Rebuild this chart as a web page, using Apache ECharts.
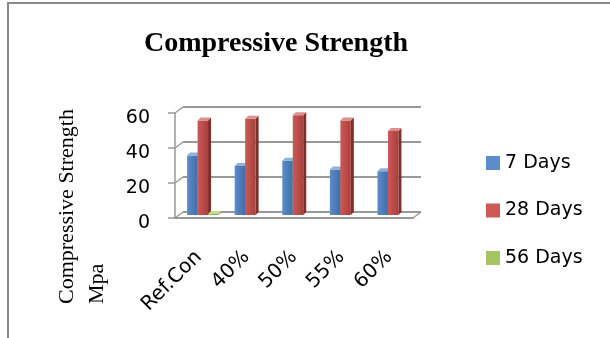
<!DOCTYPE html>
<html>
<head>
<meta charset="utf-8">
<script src="https://cdn.jsdelivr.net/npm/echarts@6/dist/echarts.min.js"></script>
<style>
  html, body { margin: 0; padding: 0; background: #fff; }
  #chart { width: 610px; height: 338px; }
</style>
</head>
<body>
<div id="chart"></div>
<script>
// Mixes and compressive strength results (MPa)
const categories = ['Ref.Con', '40%', '50%', '55%', '60%'];
const days7 = [34, 28, 31, 26, 25];
const days28 = [54, 55, 57, 54, 48];
const days56 = [0.6, 0, 0, 0, 0];
const seriesNames = ['7 Days', '28 Days', '56 Days'];
const yTicks = [0, 20, 40, 60];

// Pseudo-3D geometry: back wall offset and bar depth
const DEPTH = { dx: 8, dy: -6 };
const MID = { dx: 4, dy: -3 };
const BAR_DEPTH = 3;
const BAR_FRACTION = 0.22;

const palette = [
  { front: ['#5B8DCB', '#3F6FAA'], side: '#2F5685', top: '#8DB0DC' },
  { front: ['#CC5956', '#A9403D'], side: '#7E2E2C', top: '#DE8E8C' },
  { front: ['#A5C563', '#86A547'], side: '#667E33', top: '#C4DB93' }
];

function renderBar(params, api) {
  const idx = api.value(0);
  const val = api.value(1);
  if (!(val > 0)) return null;
  const si = params.seriesIndex;
  const base = api.coord([idx, 0]);
  const top = api.coord([idx, val]);
  const band = api.size([1, 0])[0];
  const w = band * BAR_FRACTION;
  const x0 = base[0] - 1.5 * w + si * w + MID.dx;
  const yb = base[1] + MID.dy;
  const yt = top[1] + MID.dy;
  const d = BAR_DEPTH;
  const c = palette[si];
  return {
    type: 'group',
    children: [
      {
        type: 'polygon',
        shape: { points: [[x0 + w, yt], [x0 + w + d, yt - d], [x0 + w + d, yb - d], [x0 + w, yb]] },
        style: { fill: c.side }
      },
      {
        type: 'rect',
        shape: { x: x0, y: yt, width: w, height: Math.max(yb - yt, 0) },
        style: {
          fill: new echarts.graphic.LinearGradient(0, 0, 1, 0, [
            { offset: 0, color: c.front[0] },
            { offset: 1, color: c.front[1] }
          ])
        }
      },
      {
        type: 'polygon',
        shape: { points: [[x0, yt], [x0 + w, yt], [x0 + w + d, yt - d], [x0 + d, yt - d]] },
        style: { fill: c.top }
      }
    ]
  };
}

// Left-wall diagonals at each tick, plus the right edge of the floor
function renderWall(params, api) {
  const cs = params.coordSys;
  const v = api.value(1);
  const y = api.coord([0, v])[1];
  const stroke = { stroke: '#9a9a9a', lineWidth: 1.5 };
  const children = [{
    type: 'line',
    shape: { x1: cs.x, y1: y, x2: cs.x + DEPTH.dx, y2: y + DEPTH.dy },
    style: stroke
  }];
  if (v === 0) {
    children.push({
      type: 'line',
      shape: { x1: cs.x + cs.width, y1: y, x2: cs.x + cs.width + DEPTH.dx, y2: y + DEPTH.dy },
      style: stroke
    });
  }
  return { type: 'group', children: children };
}

const valueSets = [days7, days28, days56];
const chart = echarts.init(document.getElementById('chart'), null, { renderer: 'canvas' });

const gridLineStyle = { color: '#999', width: 2 };
const sans = 'DejaVu Sans';

chart.setOption({
  animation: false,
  backgroundColor: '#fff',
  graphic: [
    {
      type: 'rect',
      shape: { x: 8, y: 3, width: 640, height: 400 },
      style: { fill: 'none', stroke: '#8a8a8a', lineWidth: 2 },
      silent: true
    },
    {
      type: 'text',
      x: 276, y: 44,
      style: {
        text: 'Compressive Strength',
        font: 'bold 28px "Liberation Serif"',
        fill: '#000',
        align: 'center',
        verticalAlign: 'middle'
      }
    },
    {
      type: 'text',
      x: 82, y: 304,
      rotation: Math.PI / 2,
      style: {
        text: 'Compressive Strength\nMpa',
        font: '22px "Liberation Serif"',
        lineHeight: 30,
        fill: '#000',
        align: 'left',
        verticalAlign: 'middle'
      }
    }
  ],
  legend: {
    data: seriesNames,
    orient: 'vertical',
    left: 481,
    top: 148,
    icon: 'rect',
    itemWidth: 14,
    itemHeight: 14,
    itemGap: 27.5,
    textStyle: { fontFamily: sans, fontSize: 19, color: '#000', lineHeight: 20 }
  },
  grid: [
    { left: 175, right: 197, top: 113, bottom: 120 },
    { left: 183, right: 189, top: 107, bottom: 126 }
  ],
  xAxis: [
    {
      type: 'category',
      gridIndex: 0,
      data: categories,
      axisLine: { lineStyle: { color: '#999', width: 2 } },
      axisTick: { show: false },
      axisLabel: {
        rotate: 45,
        margin: 36,
        interval: 0,
        fontFamily: sans,
        fontSize: 20,
        color: '#000'
      }
    },
    {
      type: 'category',
      gridIndex: 1,
      data: categories,
      show: false
    }
  ],
  yAxis: [
    {
      type: 'value',
      gridIndex: 0,
      min: 0,
      max: 60,
      interval: 20,
      splitLine: { show: false },
      axisLine: { show: true, lineStyle: { color: '#999', width: 1.5 } },
      axisTick: { show: true, length: 7, lineStyle: { color: '#999', width: 1.5 } },
      axisLabel: {
        margin: 25,
        fontFamily: sans,
        fontSize: 19,
        color: '#000',
        verticalAlign: 'top',
        lineHeight: 10
      }
    },
    {
      type: 'value',
      gridIndex: 1,
      min: 0,
      max: 60,
      interval: 20,
      axisLine: { show: false },
      axisTick: { show: false },
      axisLabel: { show: false },
      splitLine: { show: true, lineStyle: gridLineStyle }
    }
  ],
  series: [
    ...seriesNames.map((name, si) => ({
      name: name,
      type: 'custom',
      xAxisIndex: 0,
      yAxisIndex: 0,
      clip: false,
      itemStyle: { color: palette[si].front[0] },
      renderItem: renderBar,
      encode: { x: 0, y: 1 },
      data: valueSets[si].map((v, i) => [i, v]),
      z: 3
    })),
    {
      name: 'walls',
      type: 'custom',
      xAxisIndex: 0,
      yAxisIndex: 0,
      clip: false,
      silent: true,
      renderItem: renderWall,
      encode: { x: 0, y: 1 },
      data: yTicks.map(t => [0, t]),
      z: 1
    }
  ]
});
</script>
</body>
</html>
